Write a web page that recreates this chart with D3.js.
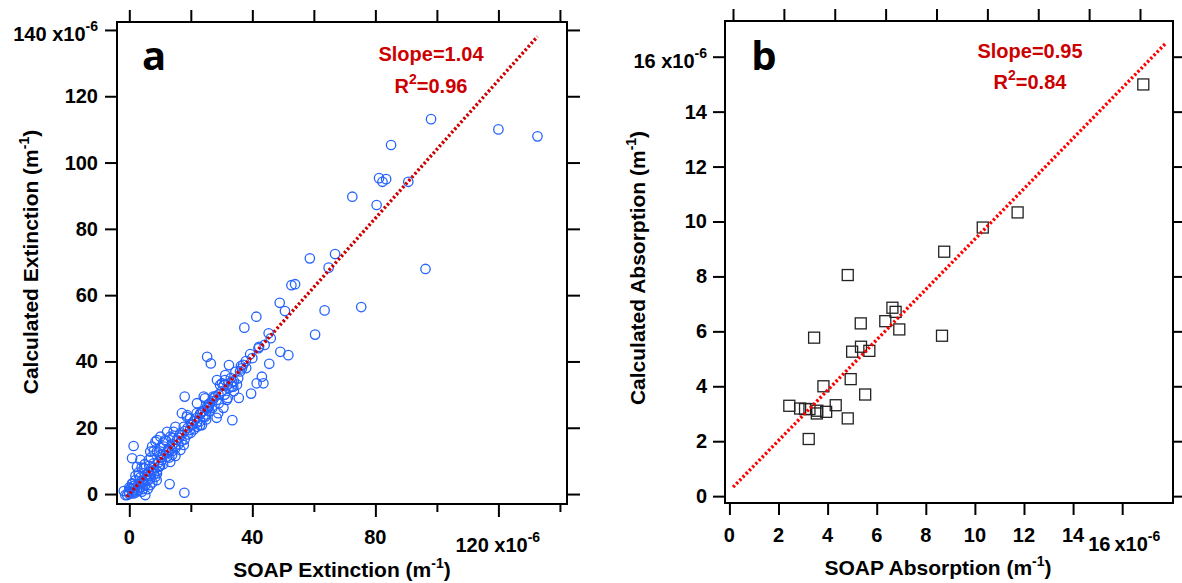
<!DOCTYPE html>
<html><head><meta charset="utf-8">
<script src="https://cdn.jsdelivr.net/npm/d3@7"></script>
<style>
body{margin:0;background:#fff}
svg{display:block}
text{font-family:"Liberation Sans",Arial,sans-serif;font-weight:bold;fill:#000}
</style>
</head><body>
<svg id="c" width="1182" height="583"></svg>
<script>
// ---------- Panel a data: SOAP vs calculated extinction (x1e-6 m^-1) ----------
const soapExt = [98.1,120,132.7,85.1,81.2,82.3,83.5,90.7,72.5,80.4,58.7,66.9,64.8,96.3,52.7,53.9,48.9,50.6,63.5,75.4,
41.3,37.4,45.3,60.4,42.2,39.3,49.1,51.7,25.3,26.5,32.4,36.3,45.5,37.9,43.1,41.4,43.6,39.6,35.6,35.4,
33.3,31.1,29.5,31.7,30.6,28.4,33.5,18.0,24.6,27.3,25.7,23.0,21.9,18.7,19.7,17.0,36.6,30.1,33.8,26.2,
28.4,23.5,25.7,28.9,24.1,31.2,34.5,28.5,30.7,32.3,33.4,24.2,27.4,29.1,22.0,25.3,23.1,24.7,17.1,18.8,
19.8,20.4,22.0,23.6,17.7,15.0,14.4,16.6,12.3,13.3,11.7,10.1,9.0,15.5,17.7,16.6,15.0,11.2,12.8,13.9,
12.3,10.6,13.3,8.5,7.4,9.0,10.1,6.8,6.3,7.9,9.6,1.4,0.9,3.6,2.5,4.7,6.3,7.9,3.1,5.2,
6.8,8.5,9.0,2.0,0.9,3.6,5.2,6.8,0.3,-0.2,-0.7,1.4,3.1,4.1,5.2,13.1,17.9,-1.8,-1.3,8.9,
0,1,2,1,0.5,2.5,3,1.5,4,4.5,3.5,5.5,6,7,8,6.5,8,9.5,10.5,11,
12,13,14,15,16,17,18,19,20,21,22,23,24,25,26,27,28,30,32,33,
34,36,37,38,40,42,44,46,
10,11,12,14,7,8,5,4,3,6,7,9,10,11,13,14,15,16,18,19,
20,21,22,23,25,26,27,29,31,32,34,35,2,1,0,2,3.5,4.5,6,7.5];
const calcExt = [113.1,110,107.9,105.3,95.3,94.2,95.0,94.2,89.7,87.2,71.1,72.4,68.3,67.9,63.0,63.3,57.7,55.2,55.4,56.4,
53.5,50.2,48.5,48.1,44.4,42.2,42.9,41.9,41.4,39.4,38.9,38.6,39.3,40.1,35.4,33.4,33.4,30.3,29.0,34.9,
32.4,34.4,32.9,28.4,26.0,23.0,22.3,29.4,28.9,29.4,25.9,20.8,24.4,23.3,19.3,17.8,37.9,33.4,32.4,27.4,
28.4,24.8,26.3,24.4,23.3,35.9,36.9,34.4,32.9,31.9,33.9,29.4,28.9,27.4,27.4,26.3,24.4,23.3,24.4,23.8,
22.8,20.8,20.3,20.8,20.3,20.3,18.8,18.3,18.8,17.3,16.3,17.3,16.3,16.3,14.8,13.3,13.8,14.3,13.3,11.8,
11.3,10.3,9.7,15.8,14.3,12.8,11.8,12.8,10.3,9.3,8.2,14.5,10.8,10.3,8.2,7.8,6.7,7.2,5.7,5.7,
4.7,5.2,6.2,4.2,3.2,3.2,2.7,2.7,1.7,0.7,-0.3,0.2,1.2,0.7,-0.3,3.0,0.4,0.9,-0.3,4.2,
0,1,2,0.5,1.5,1,3,2.5,4,3.5,5,4.5,6,7,8,8.5,6,9.5,11,9,
12.5,13,15,14.5,17,16,19,18,21,22,23,24,25,24,27,28,29.5,31,33,35,
34,37,39,38,41,44,45,47,
14,15.5,16,17,11,13,9,8,6.5,4,5.5,7,8.5,12,11,13,11.5,15,16.5,20,
18.5,19.5,21.5,22,22.5,25,26,30,30,29,31,33,5.5,3,2,0.5,2,1.5,1.5,3.5];

// ---------- Panel b data: SOAP vs calculated absorption (x1e-6 m^-1) ----------
const soapAbs = [4.82,8.75,3.45,5.35,6.64,6.77,6.35,6.92,8.66,5.36,5.0,5.7,4.94,5.53,3.83,2.44,2.88,3.08,3.26,3.56,3.58,3.94,4.33,4.82,3.23,10.32,11.74,16.86];
const calcAbs = [8.05,8.9,5.77,6.29,6.86,6.71,6.37,6.07,5.84,5.44,5.26,5.29,4.26,3.70,4.0,3.29,3.19,3.17,3.17,3.01,3.11,3.07,3.31,2.83,2.08,9.78,10.33,14.99];

// ---------- fits (as drawn) ----------
const fitA = {slope: 1.04, intercept: 0, x0: -0.8, x1: 132.7, label: "Slope=1.04", r2: "=0.96"};
const fitB = {slope: 0.917, intercept: 0.19, x0: 0.15, x1: 17.78, label: "Slope=0.95", r2: "=0.84"};

// ---------- tick values / labels ----------
const extYTicks = [0,20,40,60,80,100,120,140];
const extYLabels = ["0","20","40","60","80","100","120","140 x10"];
const extXMajor = [0,40,80,120];
const extXMinor = [20,60,100,140];
const extXLabels = ["0","40","80","120 x10"];
const absTicks = [0,2,4,6,8,10,12,14,16];
const absLabels = ["0","2","4","6","8","10","12","14","16 x10"];
const absXLabels = ["0","2","4","6","8","10","12","14","16\u2009x10"];
const absTopTicks = [0,2,4,6,8,10,12,14,16];

const TICKFS = 20, TITLEFS = 21, SUPFS = 14;
const svg = d3.select("#c");

function sup(sel, s){
  sel.append("tspan").attr("dy", -10).attr("font-size", SUPFS).text(s);
}
function title(g, transform, x, y, main){
  const t = g.append("text").attr("text-anchor","middle").attr("font-size",TITLEFS);
  if(transform) t.attr("transform", transform); else t.attr("x",x).attr("y",y);
  t.append("tspan").text(main + " (m");
  t.append("tspan").attr("dy",-9).attr("font-size",SUPFS).text("-1");
  t.append("tspan").attr("dy",9).text(")");
}
function fitText(g, x, y1, y2, fit){
  g.append("text").attr("x",x).attr("y",y1).attr("text-anchor","middle").attr("font-size",20)
    .style("fill","#cc0000").text(fit.label);
  const t = g.append("text").attr("x",x).attr("y",y2).attr("text-anchor","middle").attr("font-size",20).style("fill","#cc0000");
  t.append("tspan").text("R");
  t.append("tspan").attr("dy",-9).attr("font-size",14).text("2");
  t.append("tspan").attr("dy",9).text(fit.r2);
}

// ================= Panel a =================
const ax = d3.scaleLinear().domain([-4, 142.3]).range([117, 567]);
const ay = d3.scaleLinear().domain([-3, 142.4]).range([504, 22]);
const ga = svg.append("g");

ga.append("g").attr("transform","translate(117,0)")
  .call(d3.axisLeft(ay).tickValues(extYTicks).tickSize(12).tickFormat(""))
  .call(g=>g.select(".domain").remove());
ga.append("g").attr("transform","translate(567,0)")
  .call(d3.axisRight(ay).tickValues(extYTicks).tickSize(13).tickFormat(""))
  .call(g=>g.select(".domain").remove());
ga.append("g").attr("transform","translate(0,504)")
  .call(d3.axisBottom(ax).tickValues(extXMajor).tickSize(13).tickFormat(""))
  .call(g=>g.select(".domain").remove());
ga.append("g").attr("transform","translate(0,504)")
  .call(d3.axisBottom(ax).tickValues(extXMinor).tickSize(8).tickFormat(""))
  .call(g=>g.select(".domain").remove());
ga.append("g").attr("transform","translate(0,22)")
  .call(d3.axisTop(ax).tickValues(extXMajor.concat(extXMinor)).tickSize(12).tickFormat(""))
  .call(g=>g.select(".domain").remove());
ga.selectAll(".tick line").attr("stroke","#000").attr("stroke-width",2);

extYTicks.forEach((v,i)=>{
  const last = i===extYTicks.length-1;
  const t = ga.append("text").attr("x",98).attr("y", ay(v) + (last?11:7))
    .attr("text-anchor","end").attr("font-size",TICKFS).text(extYLabels[i]);
  if(last) sup(t,"-6");
});
extXMajor.forEach((v,i)=>{
  const last = i===extXMajor.length-1;
  const t = ga.append("text").attr("x", last? ax(v)-43 : ax(v)).attr("y", last?552:544)
    .attr("text-anchor", last?"start":"middle").attr("font-size",TICKFS).text(extXLabels[i]);
  if(last) sup(t,"-6");
});

ga.append("rect").attr("x",117).attr("y",22).attr("width",450).attr("height",482)
  .attr("fill","none").attr("stroke","#000").attr("stroke-width",2);

ga.append("g").selectAll("circle").data(soapExt.map((x,i)=>[x,calcExt[i]])).join("circle")
  .attr("cx",d=>ax(d[0])).attr("cy",d=>ay(d[1])).attr("r",4.7)
  .attr("fill","none").attr("stroke","#2563ff").attr("stroke-width",1.3);

ga.append("path").datum([fitA.x0, fitA.x1])
  .attr("d", d3.line().x(d=>ax(d)).y(d=>ay(fitA.slope*d+fitA.intercept)))
  .attr("stroke","#cc0000").attr("stroke-width",3.4).attr("stroke-dasharray","2.4 2.2").attr("fill","none");

fitText(ga, 431, 61, 93, fitA);
ga.append("text").attr("x",154).attr("y",70).attr("text-anchor","middle")
  .style("font-family","'Open Sans',sans-serif").attr("font-size",40).text("a");

title(ga, null, 342, 577, "SOAP Extinction");
title(ga, "translate(38,262) rotate(-90)", 0, 0, "Calculated Extinction");

// ================= Panel b =================
const bx = d3.scaleLinear().domain([-0.18, 18.07]).range([725, 1173]);
const by = d3.scaleLinear().domain([-0.25, 17.3]).range([503, 21]);
const bxTop = d3.scaleLinear().domain([0, 16]).range([733, 1140]);
const gb = svg.append("g");

gb.append("g").attr("transform","translate(725,0)")
  .call(d3.axisLeft(by).tickValues(absTicks).tickSize(12).tickFormat(""))
  .call(g=>g.select(".domain").remove());
gb.append("g").attr("transform","translate(1173,0)")
  .call(d3.axisRight(by).tickValues(absTicks).tickSize(12).tickFormat(""))
  .call(g=>g.select(".domain").remove());
gb.append("g").attr("transform","translate(0,503)")
  .call(d3.axisBottom(bx).tickValues(absTicks).tickSize(12).tickFormat(""))
  .call(g=>g.select(".domain").remove());
gb.append("g").attr("transform","translate(0,21)")
  .call(d3.axisTop(bxTop).tickValues(absTopTicks).tickSize(12).tickFormat(""))
  .call(g=>g.select(".domain").remove());
gb.selectAll(".tick line").attr("stroke","#000").attr("stroke-width",2);

absTicks.forEach((v,i)=>{
  const last = i===absTicks.length-1;
  const t = gb.append("text").attr("x",707).attr("y", by(v) + (last?11:7))
    .attr("text-anchor","end").attr("font-size",TICKFS).text(absLabels[i]);
  if(last) sup(t,"-6");
});
absTicks.forEach((v,i)=>{
  const last = i===absTicks.length-1;
  const t = gb.append("text").attr("x", last? bx(v)-34 : bx(v)).attr("y", last?551:542)
    .attr("text-anchor", last?"start":"middle").attr("font-size",TICKFS).text(absXLabels[i]);
  if(last) sup(t,"-6");
});

gb.append("rect").attr("x",725).attr("y",21).attr("width",448).attr("height",482)
  .attr("fill","none").attr("stroke","#000").attr("stroke-width",2);

gb.append("g").selectAll("rect").data(soapAbs.map((x,i)=>[x,calcAbs[i]])).join("rect")
  .attr("x",d=>bx(d[0])-5.5).attr("y",d=>by(d[1])-5.5).attr("width",11).attr("height",11)
  .attr("fill","none").attr("stroke","#222").attr("stroke-width",1.3);

gb.append("path").datum([fitB.x0, fitB.x1])
  .attr("d", d3.line().x(d=>bx(d)).y(d=>by(fitB.slope*d+fitB.intercept)))
  .attr("stroke","#ff0000").attr("stroke-width",3.4).attr("stroke-dasharray","2.4 2.2").attr("fill","none");

fitText(gb, 1030, 58, 89, fitB);
gb.append("text").attr("x",764).attr("y",70).attr("text-anchor","middle")
  .style("font-family","'Open Sans',sans-serif").attr("font-size",40).text("b");

title(gb, null, 938, 575, "SOAP Absorption");
title(gb, "translate(645,268) rotate(-90)", 0, 0, "Calculated Absorption");
</script>
</body></html>
